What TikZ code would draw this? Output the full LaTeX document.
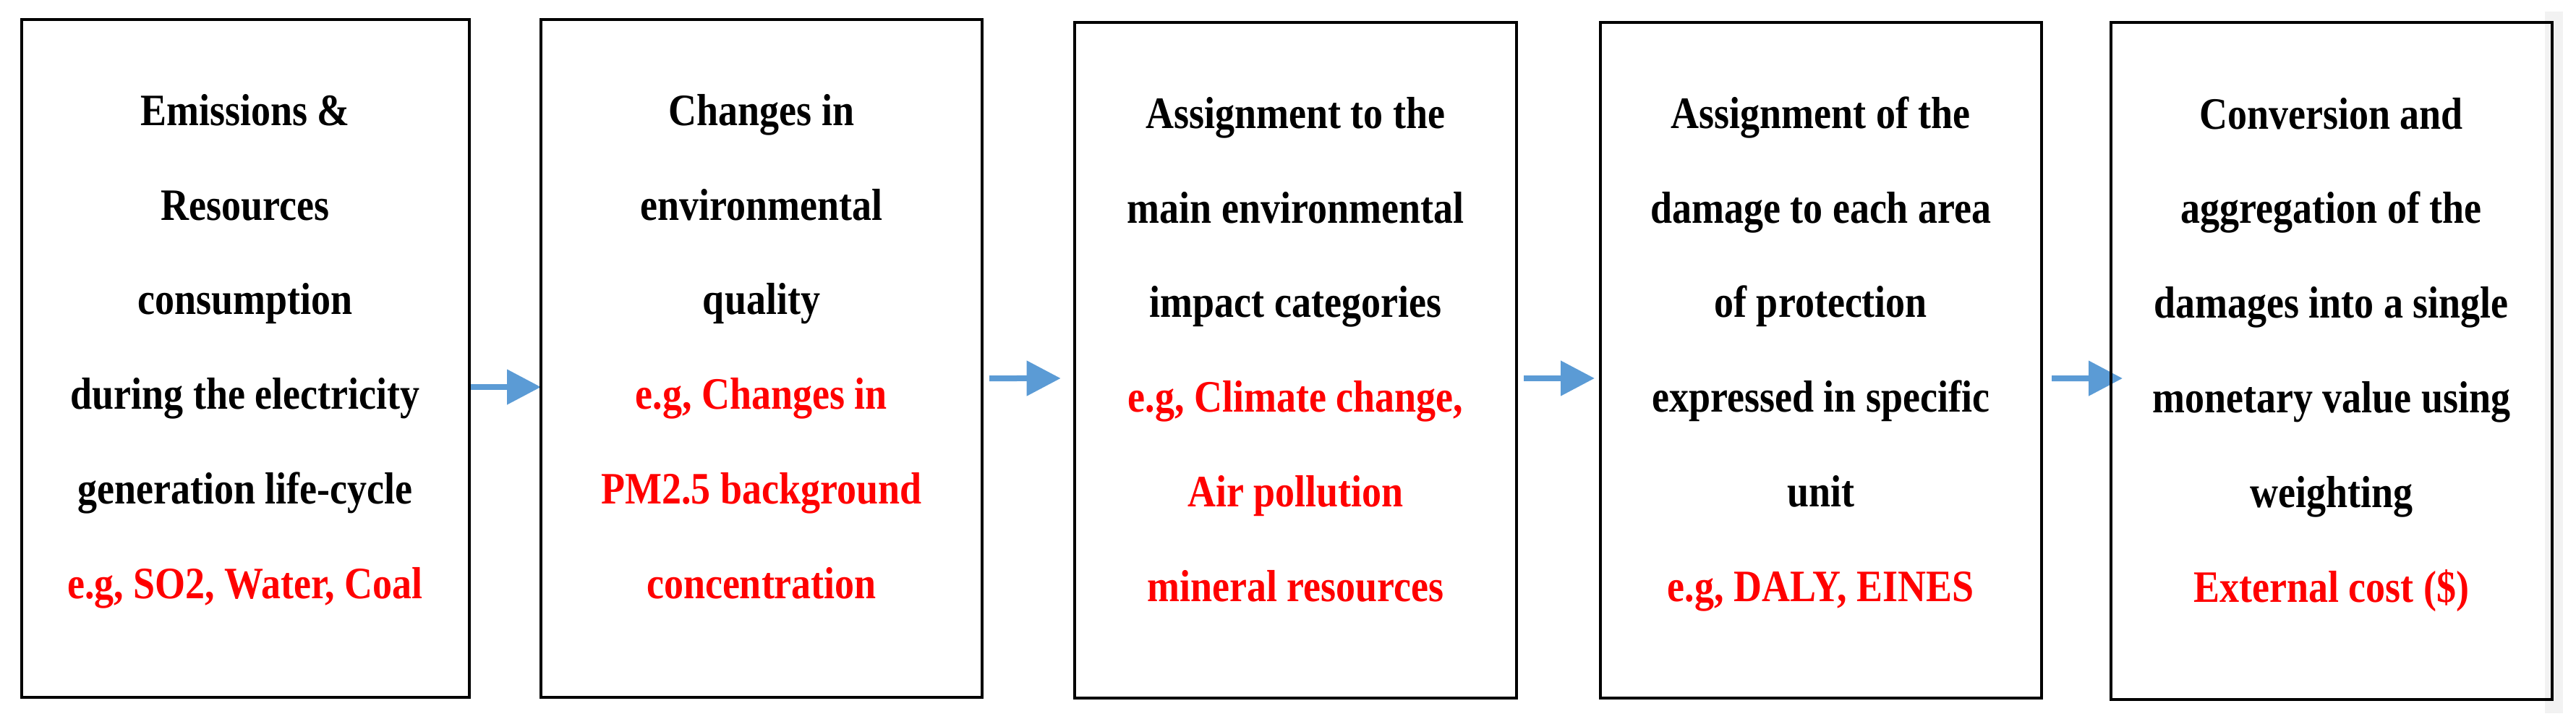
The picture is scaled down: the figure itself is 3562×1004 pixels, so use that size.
\documentclass[tikz,border=0pt]{standalone}
\usepackage{fontspec}
\setmainfont{Liberation Serif}
\usetikzlibrary{arrows.meta,backgrounds}
\definecolor{arrowblue}{HTML}{5B9BD5}
\definecolor{stripgrey}{HTML}{F2F2F2}
\definecolor{textred}{HTML}{FF0000}
\begin{document}
\begin{tikzpicture}[x=0.2pt,y=-0.2pt,
  box/.style={draw=black, line width=0.8pt, inner sep=0pt, outer sep=0pt},
  txt/.style={align=center, inner sep=0pt, outer sep=0pt, yscale=1.15, transform shape, font=\fontsize{10.8pt}{22.75pt}\selectfont\bfseries},
  arr/.style={draw=arrowblue, line width=1.6pt, -{Triangle[length=9.4pt,width=9.4pt]}}]
\useasboundingbox (0,0) rectangle (3562,1004);

\node[box, minimum width=123.76pt, minimum height=187.4pt] (b1) at (339.1,495.2) {};
\node[box, minimum width=122pt, minimum height=187.4pt] (b2) at (1053,495.2) {};
\node[box, minimum width=122.08pt, minimum height=186.74pt] (b3) at (1791.5,498.15) {};
\node[box, minimum width=122.1pt, minimum height=186.74pt] (b4) at (2517.75,498.15) {};
\node[box, minimum width=122.04pt, minimum height=187.32pt] (b5) at (3223.6,499) {};

\node[txt] (t1) at ([shift={(0,-21)}]b1.center) {\strut Emissions \&\\\strut Resources\\\strut consumption\\\strut during the electricity\\\strut generation life-cycle\\\strut\textcolor{textred}{e.g, SO2, Water, Coal}};
\node[txt] (t2) at ([shift={(0,-21)}]b2.center) {\strut Changes in\\\strut environmental\\\strut quality\\\strut\textcolor{textred}{e.g, Changes in}\\\strut\textcolor{textred}{PM2.5 background}\\\strut\textcolor{textred}{concentration}};
\node[txt] (t3) at ([shift={(0,-20)}]b3.center) {\strut Assignment to the\\\strut main environmental\\\strut impact categories\\\strut\textcolor{textred}{e.g, Climate change,}\\\strut\textcolor{textred}{Air pollution}\\\strut\textcolor{textred}{mineral resources}};
\node[txt] (t4) at ([shift={(0,-20)}]b4.center) {\strut Assignment of the\\\strut damage to each area\\\strut of protection\\\strut expressed in specific\\\strut unit\\\strut\textcolor{textred}{e.g, DALY, EINES}};
\node[txt] (t5) at ([shift={(0,-20)}]b5.center) {\strut Conversion and\\\strut aggregation of the\\\strut damages into a single\\\strut monetary value using\\\strut weighting\\\strut\textcolor{textred}{External cost (\$)}};

\begin{pgfonlayer}{background}
\fill[stripgrey] (3519,16) rectangle (3544,986);
\draw[arr] ([shift={(0,39.8)}]b1.east) -- ([shift={(0,39.8)}]b2.west);
\draw[arr] ([shift={(10,27.8)}]b2.east) -- ([shift={(-19.6,24.8)}]b3.west);
\draw[arr] ([shift={(10.3,24.8)}]b3.east) -- ([shift={(-7.5,24.8)}]b4.west);
\draw[arr] ([shift={(14,24.85)}]b4.east) -- ([shift={(16.5,24)}]b5.west);
\end{pgfonlayer}
\end{tikzpicture}
\end{document}
